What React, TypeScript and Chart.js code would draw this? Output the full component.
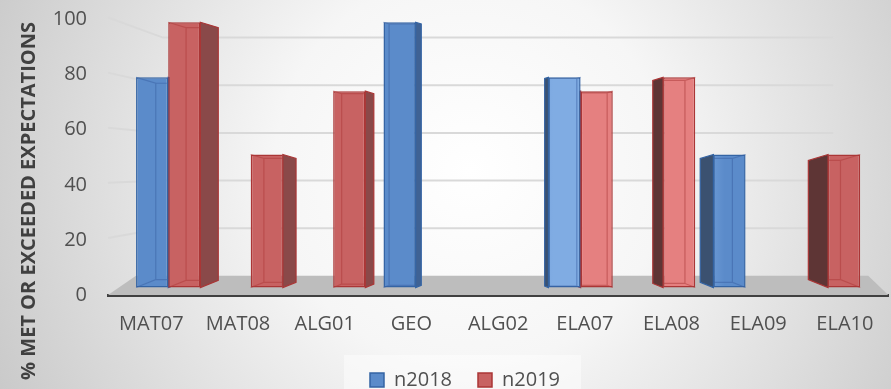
import React, { useEffect, useRef } from 'react';
import { Chart, registerables } from 'chart.js';

Chart.register(...registerables);

const categories = ['MAT07', 'MAT08', 'ALG01', 'GEO', 'ALG02', 'ELA07', 'ELA08', 'ELA09', 'ELA10'];
const n2018: (number | null)[] = [79, null, null, 99, null, 79, null, 51, null];
const n2019: (number | null)[] = [99, 51, 74, null, null, 74, 79, null, 51];
const seriesNames = ['n2018', 'n2019'];
const yTickStep = 20;
const yMin = 0;
const yMax = 100;
const yTitle = '% MET OR EXCEEDED EXPECTATIONS';

const FONT = '"Open Sans", sans-serif';
const TEXT = '#505050';

export default function App() {
  const ref = useRef<HTMLCanvasElement>(null);

  useEffect(() => {
    document.body.style.margin = '0';
    const canvas = ref.current!;

    const blue = '#5b8bca', blueLight = '#80ace3', blueBorder = '#3464a4';
    const red = '#c86262', redLight = '#e58080', redBorder = '#aa3636';

    const fillFor = (base: string, light: string) => (c: any) => {
      const ca = c.chart.chartArea;
      if (!ca) return base;
      const g = c.chart.ctx.createLinearGradient(ca.left, 0, ca.right, 0);
      g.addColorStop(0, base);
      g.addColorStop(0.52, base);
      g.addColorStop(0.57, light);
      g.addColorStop(0.75, light);
      g.addColorStop(0.79, base);
      g.addColorStop(1, base);
      return g;
    };

    const bgPlugin = {
      id: 'bg',
      beforeDraw(chart: any) {
        const { ctx, width, height } = chart;
        ctx.save();
        const g = ctx.createRadialGradient(470, 170, 0, 470, 170, 560);
        g.addColorStop(0, '#ffffff');
        g.addColorStop(0.35, '#f6f6f6');
        g.addColorStop(1, '#c4c4c4');
        ctx.fillStyle = g;
        ctx.fillRect(0, 0, width, height);
        const boxes = chart.legend?.legendHitBoxes;
        if (boxes && boxes.length) {
          const minX = Math.min(...boxes.map((b: any) => b.left));
          const maxX = Math.max(...boxes.map((b: any) => b.left + b.width));
          const top = Math.min(...boxes.map((b: any) => b.top));
          ctx.fillStyle = 'rgba(255,255,255,0.45)';
          ctx.fillRect(minX - 26, top - 15, maxX - minX + 47, height - top + 15);
        }
        ctx.restore();
      },
    };

    const sideInfo = (chart: any, bar: any) => {
      const ca = chart.chartArea;
      const cx = (ca.left + ca.right) / 2;
      const p = bar.getProps(['x', 'y', 'base', 'width'], true);
      const s = Math.abs(p.x - cx) * 0.057;
      const x0 = p.x - p.width / 2;
      const x1 = p.x + p.width / 2;
      return { ...p, s, x0, x1, right: p.x < cx, drop: s * 0.3, rise: s * 0.4 };
    };

    const wallPlugin = {
      id: 'walls',
      beforeDatasetsDraw(chart: any) {
        const { ctx, chartArea: ca, scales } = chart;
        const yF = scales.y, yB = scales.yb;
        ctx.save();
        ctx.strokeStyle = '#d9d9d9';
        ctx.lineWidth = 2;
        for (let v = yMin + yTickStep; v <= yMax; v += yTickStep) {
          const yf = yF.getPixelForValue(v) - 2;
          const yb = yB.getPixelForValue(v);
          ctx.beginPath();
          ctx.moveTo(ca.left, yf);
          ctx.lineTo(ca.left + 55, yb);
          ctx.lineTo(ca.right - 55, yb);
          ctx.stroke();
        }
        const fy = yF.getPixelForValue(0);
        const by = yB.getPixelForValue(0);
        ctx.fillStyle = '#bdbdbd';
        ctx.beginPath();
        ctx.moveTo(ca.left, fy);
        ctx.lineTo(ca.left + 28, by);
        ctx.lineTo(ca.right - 20, by);
        ctx.lineTo(ca.right, fy);
        ctx.closePath();
        ctx.fill();
        chart.data.datasets.forEach((ds: any, di: number) => {
          const meta = chart.getDatasetMeta(di);
          const isBlue = di === 0;
          meta.data.forEach((bar: any, i: number) => {
            if (ds.data[i].y == null) return;
            const b = sideInfo(chart, bar);
            ctx.beginPath();
            if (b.right) {
              ctx.moveTo(b.x1, b.y);
              ctx.lineTo(b.x1 + b.s, b.y + b.drop);
              ctx.lineTo(b.x1 + b.s, b.base - b.rise);
              ctx.lineTo(b.x1, b.base);
              ctx.fillStyle = isBlue ? '#3f6294' : '#8a4949';
            } else {
              ctx.moveTo(b.x0, b.y);
              ctx.lineTo(b.x0 - b.s, b.y + b.drop);
              ctx.lineTo(b.x0 - b.s, b.base - b.rise);
              ctx.lineTo(b.x0, b.base);
              ctx.fillStyle = isBlue ? '#3b5170' : '#5e3535';
            }
            ctx.closePath();
            ctx.fill();
            ctx.strokeStyle = isBlue ? blueBorder : redBorder;
            ctx.lineWidth = 1.2;
            ctx.stroke();
          });
        });
        ctx.restore();
      },
      afterDatasetsDraw(chart: any) {
        const { ctx } = chart;
        ctx.save();
        chart.data.datasets.forEach((ds: any, di: number) => {
          const meta = chart.getDatasetMeta(di);
          const isBlue = di === 0;
          meta.data.forEach((bar: any, i: number) => {
            if (ds.data[i].y == null) return;
            const b = sideInfo(chart, bar);
            if (b.s < 2) return;
            ctx.strokeStyle = isBlue ? 'rgba(60,100,165,0.55)' : 'rgba(175,60,60,0.55)';
            ctx.lineWidth = 1.2;
            const near = b.right ? b.x0 : b.x1;
            const far = b.right ? b.x1 : b.x0;
            const bx = b.right ? b.x0 + b.s : b.x1 - b.s;
            ctx.beginPath();
            ctx.moveTo(near, b.y);
            ctx.lineTo(bx, b.y + b.drop);
            ctx.lineTo(bx, b.base - b.rise);
            ctx.lineTo(near, b.base);
            ctx.moveTo(bx, b.y + b.drop);
            ctx.lineTo(far, b.y + b.drop);
            ctx.moveTo(bx, b.base - b.rise);
            ctx.lineTo(far, b.base - b.rise);
            ctx.stroke();
          });
        });
        ctx.restore();
      },
    };

    const titlePlugin = {
      id: 'ytitle',
      afterDraw(chart: any) {
        const { ctx } = chart;
        ctx.save();
        ctx.translate(29, 201);
        ctx.rotate(-Math.PI / 2);
        ctx.font = `bold 20px ${FONT}`;
        ctx.fillStyle = '#404040';
        ctx.textAlign = 'center';
        ctx.textBaseline = 'middle';
        ctx.fillText(yTitle, 0, 0);
        ctx.restore();
      },
    };

    const chart = new Chart(canvas, {
      type: 'bar',
      data: {
        labels: categories,
        datasets: [
          {
            label: seriesNames[0],
            data: n2018.map((v, i) => ({ x: i, y: v })) as any,
            xAxisID: 'xb',
            yAxisID: 'y',
            backgroundColor: fillFor(blue, blueLight) as any,
            borderColor: blueBorder,
            borderWidth: 1.5,
            borderSkipped: false,
            base: 2.7,
            categoryPercentage: 0.78,
            barPercentage: 1,
          } as any,
          {
            label: seriesNames[1],
            data: n2019.map((v, i) => ({ x: i, y: v })) as any,
            xAxisID: 'xb',
            yAxisID: 'y',
            backgroundColor: fillFor(red, redLight) as any,
            borderColor: redBorder,
            borderWidth: 1.5,
            borderSkipped: false,
            base: 2.7,
            categoryPercentage: 0.78,
            barPercentage: 1,
          } as any,
        ],
      },
      options: {
        animation: false,
        responsive: false,
        layout: { padding: { top: 19.5, right: 1, left: 40, bottom: -11 } },
        scales: {
          x: {
            type: 'category',
            position: 'bottom',
            offset: true,
            grid: { display: false, drawTicks: false },
            border: { display: true, color: '#404040', width: 3 },
            ticks: { font: { family: FONT, size: 20 }, color: TEXT, padding: 17.5 },
            afterFit: (s: any) => {
              s.height = 49;
            },
          },
          xb: {
            type: 'linear',
            display: false,
            offset: false,
            min: -0.73,
            max: 8.73,
            afterBuildTicks: (s: any) => {
              s.ticks = categories.map((_, i) => ({ value: i }));
            },
          },
          y: {
            min: yMin,
            max: yMax,
            ticks: { stepSize: yTickStep, font: { family: FONT, size: 20 }, color: TEXT, padding: 21 },
            grid: { display: false, drawTicks: false },
            border: { display: false },
            afterFit: (s: any) => {
              s.width = 68;
              s.paddingTop = 0;
              s.paddingBottom = 0;
            },
          },
          yb: { type: 'linear', display: false, min: -8.05, max: 107.6 },
        } as any,
        plugins: {
          legend: {
            position: 'bottom',
            labels: {
              font: { family: FONT, size: 20 },
              color: TEXT,
              boxWidth: 14,
              boxHeight: 14,
              padding: 26,
            },
          },
          tooltip: { enabled: false },
        },
      },
      plugins: [bgPlugin, wallPlugin, titlePlugin],
    });

    return () => chart.destroy();
  }, []);

  return (
    <div style={{ width: 891, height: 389 }}>
      <canvas ref={ref} width={891} height={389} style={{ display: 'block' }} />
    </div>
  );
}
